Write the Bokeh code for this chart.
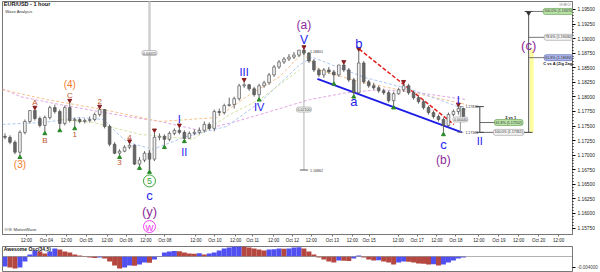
from bokeh.plotting import figure
from bokeh.models import Range1d, FixedTicker, Label, ColumnDataSource, Span, PrintfTickFormatter
from bokeh.layouts import column
from bokeh.embed import file_html
from bokeh.resources import INLINE
from bokeh.core.properties import value

FONT = "Liberation Sans"

# ---------------- data (EUR/USD, 3-hour candles) ----------------
first_open = 1.17323
close = [1.17306, 1.17221, 1.17051, 1.17391, 1.17578, 1.17765, 1.17629, 1.17510, 1.17646, 1.17816,
         1.17748, 1.17544, 1.17816, 1.17595, 1.17612, 1.17578, 1.17595, 1.17612, 1.17697, 1.17782,
         1.17493, 1.17187, 1.17034, 1.17068, 1.17136, 1.17170, 1.16847, 1.16915, 1.17034, 1.16932,
         1.17306, 1.17323, 1.17272, 1.17374, 1.17425, 1.17391, 1.17289, 1.17374, 1.17391, 1.17425,
         1.17527, 1.17459, 1.17748, 1.17731, 1.17850, 1.17867, 1.17969, 1.18190, 1.18207, 1.18139,
         1.18037, 1.18190, 1.18241, 1.18377, 1.18513, 1.18598, 1.18649, 1.18683, 1.18717, 1.18802,
         1.18751, 1.18615, 1.18462, 1.18377, 1.18462, 1.18428, 1.18377, 1.18547, 1.18462, 1.18292,
         1.18071, 1.18581, 1.18258, 1.18190, 1.18156, 1.18105, 1.18071, 1.17935, 1.18054, 1.18122,
         1.18190, 1.18071, 1.17986, 1.17918, 1.17816, 1.17731, 1.17663, 1.17612, 1.17510, 1.17697,
         1.17748, 1.17799, 1.17663]
high = [1.17374, 1.17340, 1.17255, 1.17425, 1.17612, 1.17770, 1.17782, 1.17663, 1.17680, 1.17850,
        1.17867, 1.17782, 1.17850, 1.17901, 1.17646, 1.17646, 1.17629, 1.17663, 1.17731, 1.17799,
        1.17790, 1.17527, 1.17221, 1.17102, 1.17170, 1.17204, 1.17187, 1.16966, 1.17068, 1.17085,
        1.17391, 1.17374, 1.17357, 1.17408, 1.17459, 1.17476, 1.17425, 1.17408, 1.17442, 1.17476,
        1.17578, 1.17561, 1.17782, 1.17799, 1.17884, 1.17986, 1.18003, 1.18224, 1.18258, 1.18224,
        1.18173, 1.18224, 1.18275, 1.18411, 1.18547, 1.18632, 1.18683, 1.18734, 1.18768, 1.18802,
        1.18819, 1.18768, 1.18649, 1.18496, 1.18496, 1.18513, 1.18462, 1.18547, 1.18564, 1.18496,
        1.18326, 1.18785, 1.18615, 1.18292, 1.18241, 1.18190, 1.18139, 1.18105, 1.18088, 1.18156,
        1.18224, 1.18224, 1.18105, 1.18020, 1.17952, 1.17850, 1.17765, 1.17697, 1.17646, 1.17731,
        1.17782, 1.17833, 1.17816]
low = [1.17272, 1.17187, 1.17017, 1.17000, 1.17357, 1.17544, 1.17595, 1.17476, 1.17408, 1.17612,
       1.17714, 1.17459, 1.17510, 1.17561, 1.17493, 1.17544, 1.17544, 1.17561, 1.17578, 1.17663,
       1.17459, 1.17153, 1.17017, 1.17000, 1.17051, 1.17102, 1.16830, 1.16813, 1.16881, 1.16745,
       1.16898, 1.17255, 1.17170, 1.17238, 1.17340, 1.17357, 1.17272, 1.17289, 1.17340, 1.17357,
       1.17391, 1.17425, 1.17408, 1.17680, 1.17697, 1.17833, 1.17799, 1.17935, 1.18156, 1.18105,
       1.18003, 1.17986, 1.18156, 1.18207, 1.18343, 1.18479, 1.18564, 1.18615, 1.18649, 1.18683,
       1.18717, 1.18581, 1.18428, 1.18343, 1.18326, 1.18394, 1.18258, 1.18343, 1.18428, 1.18258,
       1.18037, 1.18054, 1.18224, 1.18156, 1.18122, 1.18071, 1.18037, 1.17901, 1.17850, 1.18037,
       1.18088, 1.18037, 1.17952, 1.17884, 1.17782, 1.17697, 1.17629, 1.17578, 1.17391, 1.17476,
       1.17663, 1.17697, 1.17629]

# Awesome Oscillator (34,5)
ao = [-0.00364, -0.00400, -0.00437, -0.00400, -0.00182, 0.00073, 0.00218, 0.00182, 0.00109, 0.00182,
      0.00291, 0.00255, 0.00182, 0.00146, 0.00073, 0.00036, 0.00018, -0.00036, -0.00055, -0.00036,
      -0.00073, -0.00182, -0.00328, -0.00437, -0.00400, -0.00328, -0.00340, -0.00291, -0.00218, -0.00230,
      -0.00109, 0.00018, 0.00146, 0.00182, 0.00200, 0.00190, 0.00146, 0.00109, 0.00100, 0.00115,
      0.00073, 0.00109, 0.00146, 0.00218, 0.00291, 0.00328, 0.00364, 0.00400, 0.00364, 0.00328,
      0.00291, 0.00255, 0.00218, 0.00255, 0.00262, 0.00291, 0.00280, 0.00295, 0.00328, 0.00335,
      0.00291, 0.00182, 0.00073, -0.00036, -0.00109, -0.00182, -0.00218, -0.00146, -0.00155, -0.00160,
      -0.00073, 0.00036, -0.00036, -0.00109, -0.00146, -0.00140, -0.00182, -0.00218, -0.00291, -0.00218,
      -0.00182, -0.00190, -0.00218, -0.00255, -0.00262, -0.00291, -0.00285, -0.00328, -0.00291, -0.00218,
      -0.00146, -0.00073, -0.00036]

# moving-average style dashed lines (hour, price)
ma_pink_h = [0, 10.8, 34.8, 54.6, 75, 94.8, 118.8, 138.6, 159, 184.8, 207, 226.8, 246.6, 262.8, 279.6]
ma_pink_p = [1.18139, 1.18003, 1.17867, 1.17765, 1.17663, 1.17578, 1.17425, 1.17561, 1.17731, 1.17952,
             1.18071, 1.18122, 1.18088, 1.18020, 1.17952]
ma_peach_h = [0, 27, 60.6, 94.8, 129, 148.8, 166.8, 180.6, 190.8, 214.8, 244.8, 279.6]
ma_peach_p = [1.18122, 1.17952, 1.17782, 1.17578, 1.17646, 1.18037, 1.18343, 1.18751, 1.18462, 1.18258,
              1.18088, 1.17867]
ma_blue_h = [0, 10.8, 24.6, 46.8, 60.6, 75, 90.6, 111, 135, 154.8, 178.8, 186.6, 202.8, 219, 246.6, 279]
ma_blue_p = [1.17527, 1.17544, 1.17561, 1.17646, 1.17612, 1.17221, 1.17102, 1.17323, 1.17493, 1.17901,
             1.18547, 1.18683, 1.18496, 1.18326, 1.18122, 1.17782]
ma_green_h = [34.8, 54.6, 82.8, 114.6, 136.8, 154.8, 178.8]
ma_green_p = [1.17612, 1.17561, 1.17357, 1.17272, 1.17697, 1.17952, 1.18462]

# channel lines (hour, price)
chan_blue_h = [189.6, 276.6]
chan_blue_p = [1.18309, 1.17391]
chan_red_h = [214.8, 271.8]
chan_red_p = [1.18819, 1.17527]

# x-axis ticks (hour index) and labels
tick_hours = [14.4, 26.4, 38.4, 50.4, 63.0, 74.4, 86.4, 97.8, 116.4, 127.8, 140.4, 150.6, 163.2, 174.6,
              186.0, 198.6, 210.6, 220.8, 238.2, 249.6, 261.6, 273.0, 286.8, 298.8, 310.8, 322.8, 334.8]
tick_labels = ["12:00", "Oct 04", "12:00", "Oct 05", "12:00", "Oct 06", "12:00", "Oct 08", "12:00",
               "Oct 10", "12:00", "Oct 11", "12:00", "Oct 12", "12:00", "Oct 13", "12:00", "Oct 15",
               "12:00", "Oct 17", "12:00", "Oct 18", "12:00", "Oct 19", "12:00", "Oct 20", "12:00"]
price_ticks = [1.1575, 1.16, 1.1625, 1.165, 1.1675, 1.17, 1.1725, 1.175, 1.1775, 1.18,
               1.1825, 1.185, 1.1875, 1.19, 1.1925, 1.195]

# current-price boxes on the price scale
scale_box_price = [1.17830, 1.17660, 1.17610]
scale_box_text = ["1.17830", "1.17658", "1.17617"]

# wave labels: text, bar index, pivot side
wave_text = ["(3)", "A", "B", "C", "(4)", "1", "2", "3", "4", "5", "c", "(y)", "w",
             "I", "II", "III", "IV", "V", "(a)", "a", "b", "c", "(b)", "I"]
wave_idx = [3, 6, 8, 13, 13, 14, 19, 23, 25, 29, 29, 29, 29,
            35, 36, 48, 51, 60, 60, 70, 71, 88, 88, 91]
wave_side = ["L", "H", "L", "H", "H", "L", "H", "L", "H", "L", "L", "L", "L",
             "H", "L", "H", "L", "H", "H", "L", "H", "L", "L", "H"]
pivot_hi = [6, 13, 19, 25, 30, 35, 48, 60, 68, 71, 80, 91]
pivot_lo = [3, 8, 11, 14, 23, 27, 29, 32, 36, 51, 66, 70, 78, 88]

measure_5 = 0.04015
ratios_II = [0.618, 1.0]
ratios_c = [0.618, 0.786, 1.0]
labels_II = ["61.8% (1.17552)", "100.0% (1.17361)"]
labels_c = ["61.8% (1.18684)", "78.6% (1.19030)", "100.0% (1.19470)"]

# ---------------- styles ----------------
ORANGE = "#f07a28"
RUST = "#c0562e"
BLUE = "#2323ee"
PURPLE = "#8c2c9c"
GREEN = "#38a838"
MAGENTA = "#f040f0"
wave_dy = [9, -7, 9, -7, -18, 8, -7, 7, -6, 11, 26, 42, 57,
           -8, 13, -10, 9, -9, -24, 7, -8, 12, 28, -7]
wave_col = [ORANGE, RUST, RUST, RUST, ORANGE, RUST, RUST, RUST, RUST, GREEN, BLUE, PURPLE, MAGENTA,
            BLUE, BLUE, BLUE, BLUE, BLUE, PURPLE, BLUE, BLUE, BLUE, PURPLE, BLUE]
wave_size = [10, 8, 8, 8, 10, 8, 8, 8, 8, 9, 13, 13, 11,
             11, 11, 11, 11, 12, 12, 13, 13, 13, 12, 11]

Y0, Y1 = 1.15639, 1.19636
X0, X1 = 0.0, 343.2
FRAME_H = 235
PX = (Y1 - Y0) / FRAME_H
HPX = (X1 - X0) / 572

bar_hours = [1.5 + 3 * i for i in range(len(close))]
opens = [first_open] + close[:-1]

p = figure(width=600, height=245, x_range=Range1d(X0, X1), y_range=Range1d(Y0, Y1),
           output_backend="svg", toolbar_location=None, y_axis_location="right",
           min_border_left=2, min_border_right=26, min_border_top=1, min_border_bottom=9)
p.background_fill_color = "white"
p.border_fill_color = "white"
p.outline_line_color = "#777777"
p.grid.visible = False

# MA lines
p.line(ma_pink_h, ma_pink_p, line_color="#e2a6e2", line_dash="3 2", line_width=1)
p.line(ma_peach_h, ma_peach_p, line_color="#f6c28e", line_dash="3 2", line_width=1)
p.line(ma_blue_h, ma_blue_p, line_color="#a9c6f2", line_dash="3 2", line_width=1)
p.line(ma_green_h, ma_green_p, line_color="#d4e2a2", line_dash="3 2", line_width=1)

# measuring line from wave 5 low
x5 = bar_hours[29]
p.segment(x0=[x5], y0=[low[29]], x1=[x5], y1=[low[29] + measure_5], line_color="#cfcfcf", line_width=2.5)

# measuring line V high -> wave 5 low level
xV = bar_hours[60]
p.segment(x0=[xV], y0=[high[60]], x1=[xV], y1=[low[29]], line_color="#b0b0b0", line_width=1)
p.segment(x0=[xV - 4 * HPX], y0=[low[29]], x1=[xV + 4 * HPX], y1=[low[29]], line_color="#555555", line_width=1)

# channel lines
p.line(chan_blue_h, chan_blue_p, line_color="#1c1ce6", line_width=1.8)
p.line(chan_red_h, chan_red_p, line_color="#e42020", line_width=1.5, line_dash="4 2")

# candles
body_top = [max(o, c) for o, c in zip(opens, close)]
body_bot = [min(o, c) for o, c in zip(opens, close)]
fills = ["#f2f2f2" if c >= o else "#666666" for o, c in zip(opens, close)]
src = ColumnDataSource(dict(x=bar_hours, h=high, l=low, t=body_top, b=body_bot, f=fills))
p.segment(x0="x", y0="h", x1="x", y1="l", source=src, line_color="#555555", line_width=0.9)
p.vbar(x="x", width=1.6, top="t", bottom="b", fill_color="f", line_color="#555555", line_width=0.7, source=src)

# pivot markers
p.scatter([bar_hours[i] for i in pivot_hi], [high[i] + 2.2 * PX for i in pivot_hi],
          marker="inverted_triangle", size=4, fill_color="#8a1e1e", line_color="#8a1e1e")
p.scatter([bar_hours[i] for i in pivot_lo], [low[i] - 2.2 * PX for i in pivot_lo],
          marker="triangle", size=4, fill_color="#2a8a2a", line_color="#2a8a2a")

# circled labels
p.scatter([x5], [low[29] - 11 * PX], marker="circle", size=12, fill_color="white", line_color=GREEN, line_width=1)
p.scatter([x5], [low[29] - 57 * PX], marker="circle", size=12, fill_color="white", line_color=MAGENTA, line_width=1)

# wave labels
wl_x, wl_y = [], []
for i, s, dy in zip(wave_idx, wave_side, wave_dy):
    base = high[i] if s == "H" else low[i]
    wl_x.append(bar_hours[i])
    wl_y.append(base - dy * PX)
wsrc = ColumnDataSource(dict(x=wl_x, y=wl_y, t=wave_text, c=wave_col, s=[f"{v}px" for v in wave_size]))
p.text(x="x", y="y", text="t", text_color="c", text_font_size="s", text_align="center",
       text_baseline="middle", text_font=value(FONT), source=wsrc)


def box(fig, x, y, text, fill="#f4f4f4", border="#9a9a9a", color="#333333", size="3.6px", align="center",
        bold=False, x_units="data"):
    fig.add_layout(Label(x=x, y=y, x_units=x_units, text=text, text_font=FONT, text_font_size=size,
                         text_color=color, text_align=align, text_baseline="middle",
                         background_fill_color=fill, border_line_color=border, border_line_width=0.6,
                         padding=1, border_radius=2, text_font_style="bold" if bold else "normal"))


def txt(fig, x, y, text, size="4px", color="#333333", align="left", bold=False):
    fig.add_layout(Label(x=x, y=y, text=text, text_font=FONT, text_font_size=size, text_color=color,
                         text_align=align, text_baseline="middle",
                         text_font_style="bold" if bold else "normal"))


box(p, x5, low[29] + measure_5 / 2, "0.04015")
box(p, xV, (high[60] + low[29]) / 2, "0.02100")
txt(p, xV + 6 * HPX, low[29], "1.16862", size="3.6px")
txt(p, xV + 6 * HPX, high[60] - 2 * PX, "1.18801", size="3.6px")

# measure on wave I
xI = bar_hours[91] + 2 * HPX
p.segment(x0=[xI, xI - 3 * HPX, xI - 3 * HPX], y0=[high[91], high[91], low[88]],
          x1=[xI, xI + 3 * HPX, xI + 3 * HPX], y1=[low[88], high[91], low[88]], line_color="#777777", line_width=0.8)
box(p, xI, (high[91] + low[88]) / 2, "0.00440")
txt(p, xI + 5 * HPX, high[91], "1.17830", size="3.6px")
txt(p, xI + 5 * HPX, low[88], "1.17361", size="3.6px")

# wave 2 vs 1 projection
x_II = 287.4
lab_II = 304.8
rng1 = high[91] - low[88]
p.segment(x0=[x_II], y0=[low[88]], x1=[x_II], y1=[high[91]], line_color="#444444", line_width=1)
p.segment(x0=[x_II - 4 * HPX, x_II - 4 * HPX], y0=[high[91], low[88]],
          x1=[x_II + 4 * HPX, x_II + 4 * HPX], y1=[high[91], low[88]], line_color="#444444", line_width=1)
lvl_II = [high[91] - r * rng1 for r in ratios_II]
p.segment(x0=[x_II] * 2, y0=lvl_II, x1=[lab_II - 13 * HPX] * 2, y1=lvl_II, line_color="#444444", line_width=0.8)
box(p, lab_II, lvl_II[0], labels_II[0], fill="#b9e2a6", border="#5a9a4a")
box(p, lab_II, lvl_II[1], labels_II[1])
txt(p, lab_II + 2 * HPX, lvl_II[0] + 5 * PX, "2 vs 1", size="4px", color="#111111", align="center", bold=True)
p.text(x=[x_II], y=[low[88] - 9 * PX], text=["II"], text_color=BLUE, text_font_size="11px",
       text_align="center", text_baseline="middle", text_font=value(FONT))

# wave (c) vs (a) projection
x_c = 316.8
lab_c = 334.8
base = low[88]
a_len = high[60] - low[29]
p.quad(left=[x_c + 1 * HPX], right=[x_c + 5 * HPX], bottom=[base], top=[high[60]],
       fill_color="#fdfda0", line_color=None)
lvl_c = [base + r * a_len for r in ratios_c]
p.segment(x0=[x_c], y0=[base], x1=[x_c], y1=[lvl_c[-1]], line_color="#555555", line_width=1)
p.segment(x0=[x_c - 6 * HPX, x_c - 4 * HPX], y0=[base, lvl_c[-1]], x1=[x_c + 4 * HPX, x_c + 4 * HPX],
          y1=[base, lvl_c[-1]], line_color="#444444", line_width=1)
p.scatter([x_c], [lvl_c[-1] - 1.5 * PX], marker="inverted_triangle", size=4, fill_color="#333333", line_color="#333333")
p.segment(x0=[x_c] * 3, y0=lvl_c, x1=[lab_c - 13 * HPX] * 3, y1=lvl_c, line_color="#555555", line_width=0.8)
box(p, lab_c, lvl_c[0], labels_c[0], fill="#aeb6ea", border="#5060b0")
box(p, lab_c, lvl_c[1], labels_c[1])
box(p, lab_c, lvl_c[2], labels_c[2], fill="#b9e2a6", border="#5a9a4a")
txt(p, lab_c, lvl_c[0] - 6 * PX, "C vs A (Zig Zag)", size="4px", color="#111111", align="center", bold=True)
p.text(x=[x_c], y=[lvl_c[-1] - 34 * PX], text=["(c)"], text_color=PURPLE, text_font_size="13px",
       text_align="center", text_baseline="middle", text_font=value(FONT))

# titles
txt(p, 0.8, Y1 - 3 * PX, "EUR/USD - 1 hour", size="5.5px", color="#111111", bold=True)
txt(p, 1.6, Y1 - 10 * PX, "Wave Analysis", size="4.2px", color="#333333")
txt(p, 1.0, Y0 + 5 * PX, "\u229d\u2295", size="4.5px", color="#888888")
txt(p, 6.6, Y0 + 5 * PX, "MotiveWave", size="4.2px", color="#333333")
txt(p, X1 - 8 * HPX, Y1 - 3 * PX, "\u229d\u2295\u2299", size="4.5px", color="#999999", align="center")

# current price boxes on the price scale (screen x so they sit on the axis)
box(p, 585, scale_box_price[0], scale_box_text[0], fill="#cde6f6", border="#7aa6c6", size="4.2px", x_units="screen")
box(p, 585, scale_box_price[1], scale_box_text[1], fill="#4a62c8", border="#2a3a90", color="white", size="4.2px", x_units="screen")
box(p, 585, scale_box_price[2], scale_box_text[2], fill="#f4b6be", border="#c07078", size="4.2px", x_units="screen")

# axes
p.xaxis.ticker = FixedTicker(ticks=tick_hours)
p.xaxis.major_label_overrides = dict(zip(tick_hours, tick_labels))
p.xaxis.major_label_text_font_size = "4.5px"
p.xaxis.major_label_text_font = FONT
p.xaxis.major_label_text_color = "#222222"
p.xaxis.major_tick_out = 2
p.xaxis.major_tick_in = 0
p.xaxis.minor_tick_out = 0
p.xaxis.major_label_standoff = 1
p.xaxis.axis_line_color = "#777777"
p.xaxis.major_tick_line_color = "#777777"

p.yaxis.ticker = FixedTicker(ticks=price_ticks, minor_ticks=[1.1575 + 0.0005 * k for k in range(76)])
p.yaxis.formatter = PrintfTickFormatter(format="%.5f")
p.yaxis.major_label_text_font_size = "4.8px"
p.yaxis.major_label_text_font = FONT
p.yaxis.major_label_text_color = "#222222"
p.yaxis.major_tick_out = 3
p.yaxis.major_tick_in = 0
p.yaxis.minor_tick_out = 1
p.yaxis.minor_tick_in = 0
p.yaxis.major_label_standoff = 2
p.yaxis.axis_line_color = "#777777"

# ---------------- oscillator ----------------
OY0, OY1 = -0.00546, 0.00364
q = figure(width=600, height=27, x_range=p.x_range, y_range=Range1d(OY0, OY1),
           output_backend="svg", toolbar_location=None, y_axis_location="right", x_axis_location=None,
           min_border_left=2, min_border_right=26, min_border_top=1, min_border_bottom=1)
q.grid.visible = False
q.outline_line_color = "#777777"
q.border_fill_color = "white"
ao_col = ["#5050f0" if i == 0 or ao[i] > ao[i - 1] else "#b4473f" for i in range(len(ao))]
q.add_layout(Span(location=0, dimension="width", line_dash="1 1", line_color="#666666", line_width=1))
q.vbar(x=bar_hours, top=ao, bottom=0, width=3, fill_color=ao_col, line_color=None)
txt(q, 0.8, 0.0026, "Awesome Osc(34,5)", size="5px", color="#111111", bold=True)
box(q, 585, 0.0, "0.000421", size="4.2px", fill="#ffffff", border="#666666", x_units="screen")
q.yaxis.ticker = FixedTicker(ticks=[-0.004])
q.yaxis.major_label_overrides = {-0.004: "-0.004000"}
q.yaxis.major_label_text_font_size = "4.5px"
q.yaxis.major_label_text_font = FONT
q.yaxis.major_tick_out = 3
q.yaxis.major_tick_in = 0
q.yaxis.minor_tick_out = 0
q.yaxis.major_label_standoff = 2
q.yaxis.axis_line_color = "#777777"

layout = column(p, q, spacing=0)
open("out.html", "w").write(file_html(layout, INLINE))
